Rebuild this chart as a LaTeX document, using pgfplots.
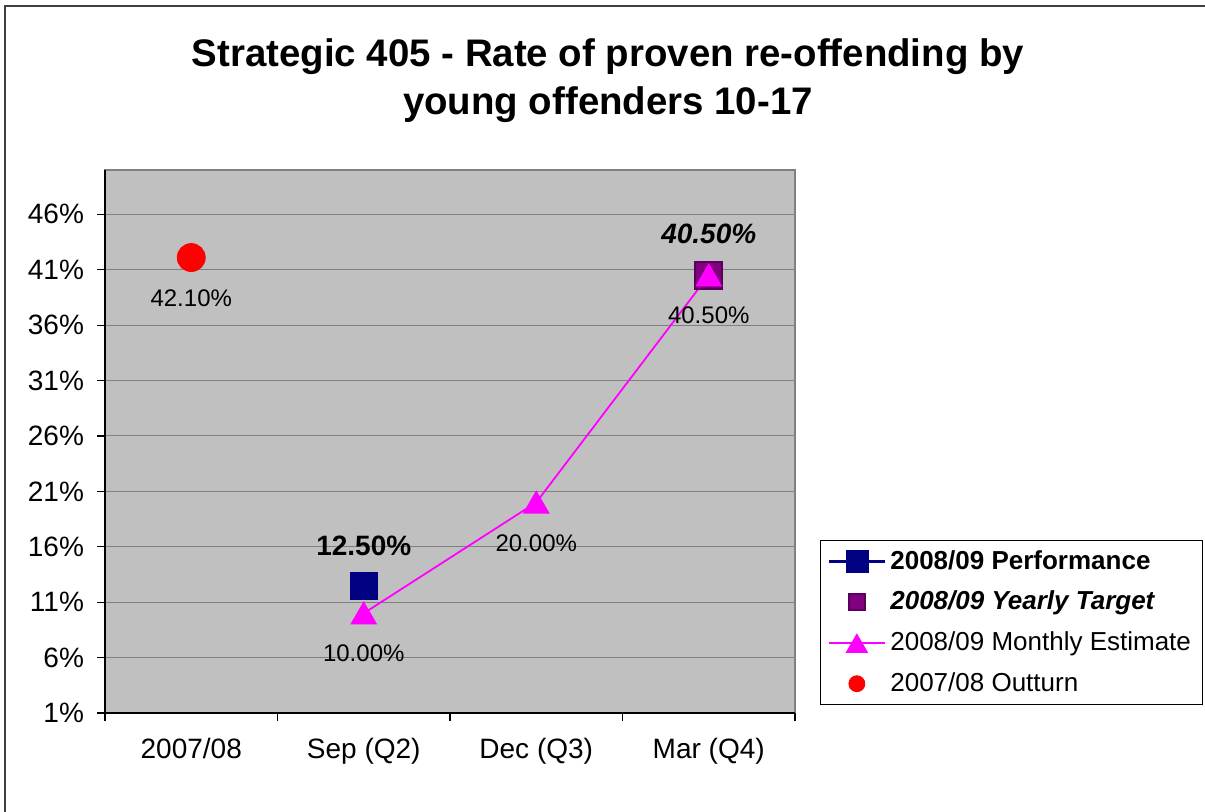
\documentclass[border=0pt]{standalone}
\usepackage{fontspec}
\setmainfont{Liberation Sans}
\usepackage{pgfplots}
\pgfplotsset{compat=1.18}
\definecolor{plotbg}{HTML}{C0C0C0}
\definecolor{navyblue}{HTML}{000080}
\definecolor{targetpurple}{HTML}{800080}
\definecolor{targetedge}{HTML}{5A005A}
\definecolor{estmagenta}{HTML}{FF00FF}
\definecolor{framegray}{HTML}{404040}
\definecolor{gridgray}{HTML}{808080}

\begin{document}
\begin{tikzpicture}
\useasboundingbox (0,0) rectangle (602.5pt,406pt);
\draw[framegray, line width=1pt] (2.5pt,-2pt) -- (2.5pt,403pt) -- (606pt,403pt);
\node[font=\fontsize{19.2}{24}\selectfont\bfseries, align=center] at (304pt,365.5pt)
  {Strategic 405 - Rate of proven re-offending by\\young offenders 10-17};
\begin{axis}[
  at={(52.5pt,49.5pt)}, anchor=south west,
  width=345pt, height=271.5pt, scale only axis,
  xmin=-0.5, xmax=3.5, ymin=1, ymax=50,
  axis x line*=bottom, axis y line*=left,
  axis line style={black, line width=0.8pt, -},
  axis background/.style={fill=plotbg, draw=gridgray, line width=0.8pt},
  xtick={0,1,2,3},
  xticklabels={2007/08, Sep (Q2), Dec (Q3), Mar (Q4)},
  minor xtick={-0.5,0.5,1.5,2.5,3.5},
  major x tick style={draw=none},
  ytick={1,6,...,46},
  yticklabels={1\%,6\%,11\%,16\%,21\%,26\%,31\%,36\%,41\%,46\%},
  tick align=outside, major tick length=4pt, minor tick length=4pt,
  tick style={black, line width=0.6pt},
  ymajorgrids, grid style={gridgray, line width=0.5pt},
  ticklabel style={font=\fontsize{14}{16}\selectfont},
  xticklabel style={yshift=-5pt},
  yticklabel style={xshift=-3pt},
  clip=false,
  legend style={at={(1.0362,0.0147)}, anchor=south west, draw=black,
    fill=white, font=\fontsize{13}{15}\selectfont,
    inner xsep=3.5pt, inner ysep=3pt, row sep=5.5pt,
    cells={anchor=west}},
  legend image code/.code={\draw[mark repeat=2, mark phase=2, #1]
    plot coordinates {(0pt,0pt) (14pt,0pt) (28pt,0pt)};},
]
\addplot[navyblue, line width=1.5pt, mark=square*, mark size=6.75pt,
  mark options={solid, fill=navyblue, draw=navyblue, line width=0.3pt},
  legend image post style={mark size=5.5pt},
  nodes near coords, point meta=explicit symbolic,
  every node near coord/.append style={anchor=center, yshift=20pt,
    font=\fontsize{14}{16}\selectfont\bfseries, text=black}]
  coordinates {(1,12.5) [12.50\%]};
\addlegendentry{\textbf{2008/09 Performance}}

\addplot[only marks, mark=square*, mark size=6.75pt,
  mark options={fill=targetpurple, draw=targetedge, line width=0.8pt},
  legend image post style={mark size=4pt},
  nodes near coords, point meta=explicit symbolic,
  every node near coord/.append style={anchor=center, yshift=20.5pt,
    font=\fontsize{14}{16}\selectfont\bfseries\itshape, text=black}]
  coordinates {(3,40.5) [40.50\%]};
\addlegendentry{\textbf{\textit{2008/09 Yearly Target}}}

\addplot[estmagenta, line width=0.9pt, mark=triangle*, mark size=6.9pt,
  mark options={solid, fill=estmagenta, draw=estmagenta, yshift=-1.7pt},
  legend image post style={mark size=5.6pt},
  nodes near coords, point meta=explicit symbolic,
  every node near coord/.append style={anchor=center, yshift=-18.5pt,
    font=\fontsize{12}{14}\selectfont, text=black}]
  coordinates {(1,10) [10.00\%] (2,20) [20.00\%] (3,40.5) [40.50\%]};
\addlegendentry{2008/09 Monthly Estimate}

\addplot[only marks, mark=*, mark size=7pt,
  mark options={fill=red, draw=red},
  legend image post style={mark size=4pt},
  nodes near coords, point meta=explicit symbolic,
  every node near coord/.append style={anchor=center, yshift=-20.5pt,
    font=\fontsize{12}{14}\selectfont, text=black}]
  coordinates {(0,42.1) [42.10\%]};
\addlegendentry{2007/08 Outturn}
\end{axis}
\end{tikzpicture}
\end{document}
